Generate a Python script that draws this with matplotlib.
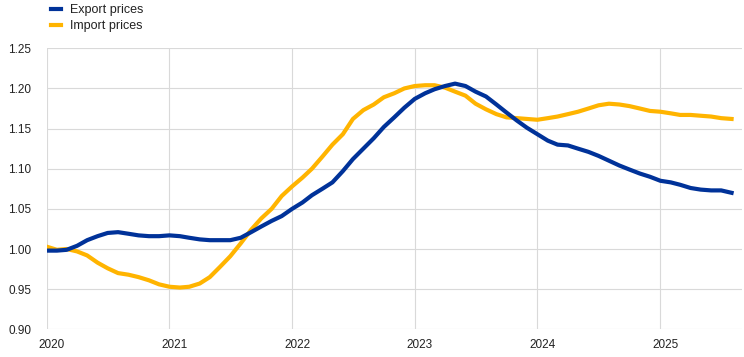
import matplotlib
matplotlib.use("Agg")
import matplotlib.pyplot as plt
import matplotlib.dates as mdates
import matplotlib.transforms as mtransforms
import pandas as pd

# monthly index values, Jan 2020 = ~1.00
dates = pd.date_range("2020-01-01", periods=68, freq="MS")

export_prices = [
    0.998, 0.998, 0.999, 1.004, 1.011, 1.016, 1.020, 1.021, 1.019, 1.017, 1.016, 1.016,
    1.017, 1.016, 1.014, 1.012, 1.011, 1.011, 1.011, 1.014, 1.021, 1.028, 1.035, 1.041,
    1.050, 1.058, 1.067, 1.075, 1.083, 1.097, 1.112, 1.125, 1.138, 1.152, 1.164, 1.176,
    1.187, 1.194, 1.199, 1.203, 1.206, 1.203, 1.196, 1.190, 1.180, 1.170, 1.160, 1.151,
    1.143, 1.135, 1.130, 1.129, 1.125, 1.121, 1.116, 1.110, 1.104, 1.099, 1.094, 1.090,
    1.085, 1.083, 1.080, 1.076, 1.074, 1.073, 1.073, 1.070,
]

import_prices = [
    1.003, 0.999, 1.000, 0.997, 0.992, 0.983, 0.976, 0.970, 0.968, 0.965, 0.961, 0.956,
    0.953, 0.952, 0.953, 0.957, 0.965, 0.978, 0.991, 1.007, 1.024, 1.038, 1.050, 1.066,
    1.078, 1.089, 1.100, 1.115, 1.130, 1.143, 1.162, 1.173, 1.180, 1.189, 1.194, 1.200,
    1.203, 1.204, 1.204, 1.201, 1.196, 1.191, 1.181, 1.174, 1.168, 1.164, 1.163, 1.162,
    1.161, 1.163, 1.165, 1.168, 1.171, 1.175, 1.179, 1.181, 1.180, 1.178, 1.175, 1.172,
    1.171, 1.169, 1.167, 1.167, 1.166, 1.165, 1.163, 1.162,
]

yticks = [0.90, 0.95, 1.00, 1.05, 1.10, 1.15, 1.20, 1.25]
years = [2020, 2021, 2022, 2023, 2024, 2025]

blue = "#003299"
yellow = "#ffb400"
grid_col = "#d9d9d9"
text_col = "#222222"

plt.rcParams["font.family"] = ["Liberation Sans", "DejaVu Sans"]

fig = plt.figure(figsize=(7.44, 3.57), dpi=100)
ax = fig.add_axes([46.5 / 744, 1 - 329.3 / 357, (742 - 46.5) / 744, (329.3 - 48.3) / 357])

ax.plot(dates, export_prices, color=blue, lw=3, label="Export prices", zorder=3)
ax.plot(dates, import_prices, color=yellow, lw=3, label="Import prices", zorder=2)

ax.set_ylim(0.90, 1.25)
ax.set_yticks(yticks)
ax.set_yticklabels([f"{v:.2f}" for v in yticks])
ax.set_xlim(pd.Timestamp("2020-01-01"), pd.Timestamp("2025-09-01"))
ax.set_xticks([pd.Timestamp(f"{y}-01-01") for y in years])
ax.xaxis.set_major_formatter(mdates.DateFormatter("%Y"))

ax.grid(True, color=grid_col, lw=0.8)
ax.set_axisbelow(True)
for s in ax.spines.values():
    s.set_visible(False)
ax.tick_params(axis="both", length=0, labelsize=8.5, colors=text_col)
ax.tick_params(axis="y", pad=11)
ax.tick_params(axis="x", pad=7)

# shift year labels slightly right, as in the reference
offset = mtransforms.ScaledTranslation(5 / 100, 0, fig.dpi_scale_trans)
for lab in ax.get_xticklabels():
    lab.set_transform(lab.get_transform() + offset)

fig.legend(
    loc="upper left",
    bbox_to_anchor=(43 / 744, 1 + 3 / 357),
    frameon=False,
    fontsize=9,
    handlelength=0.8,
    handletextpad=0.75,
    labelspacing=0.3,
    borderpad=0.1,
    labelcolor=text_col,
)

fig.savefig("out.png", dpi=100)
